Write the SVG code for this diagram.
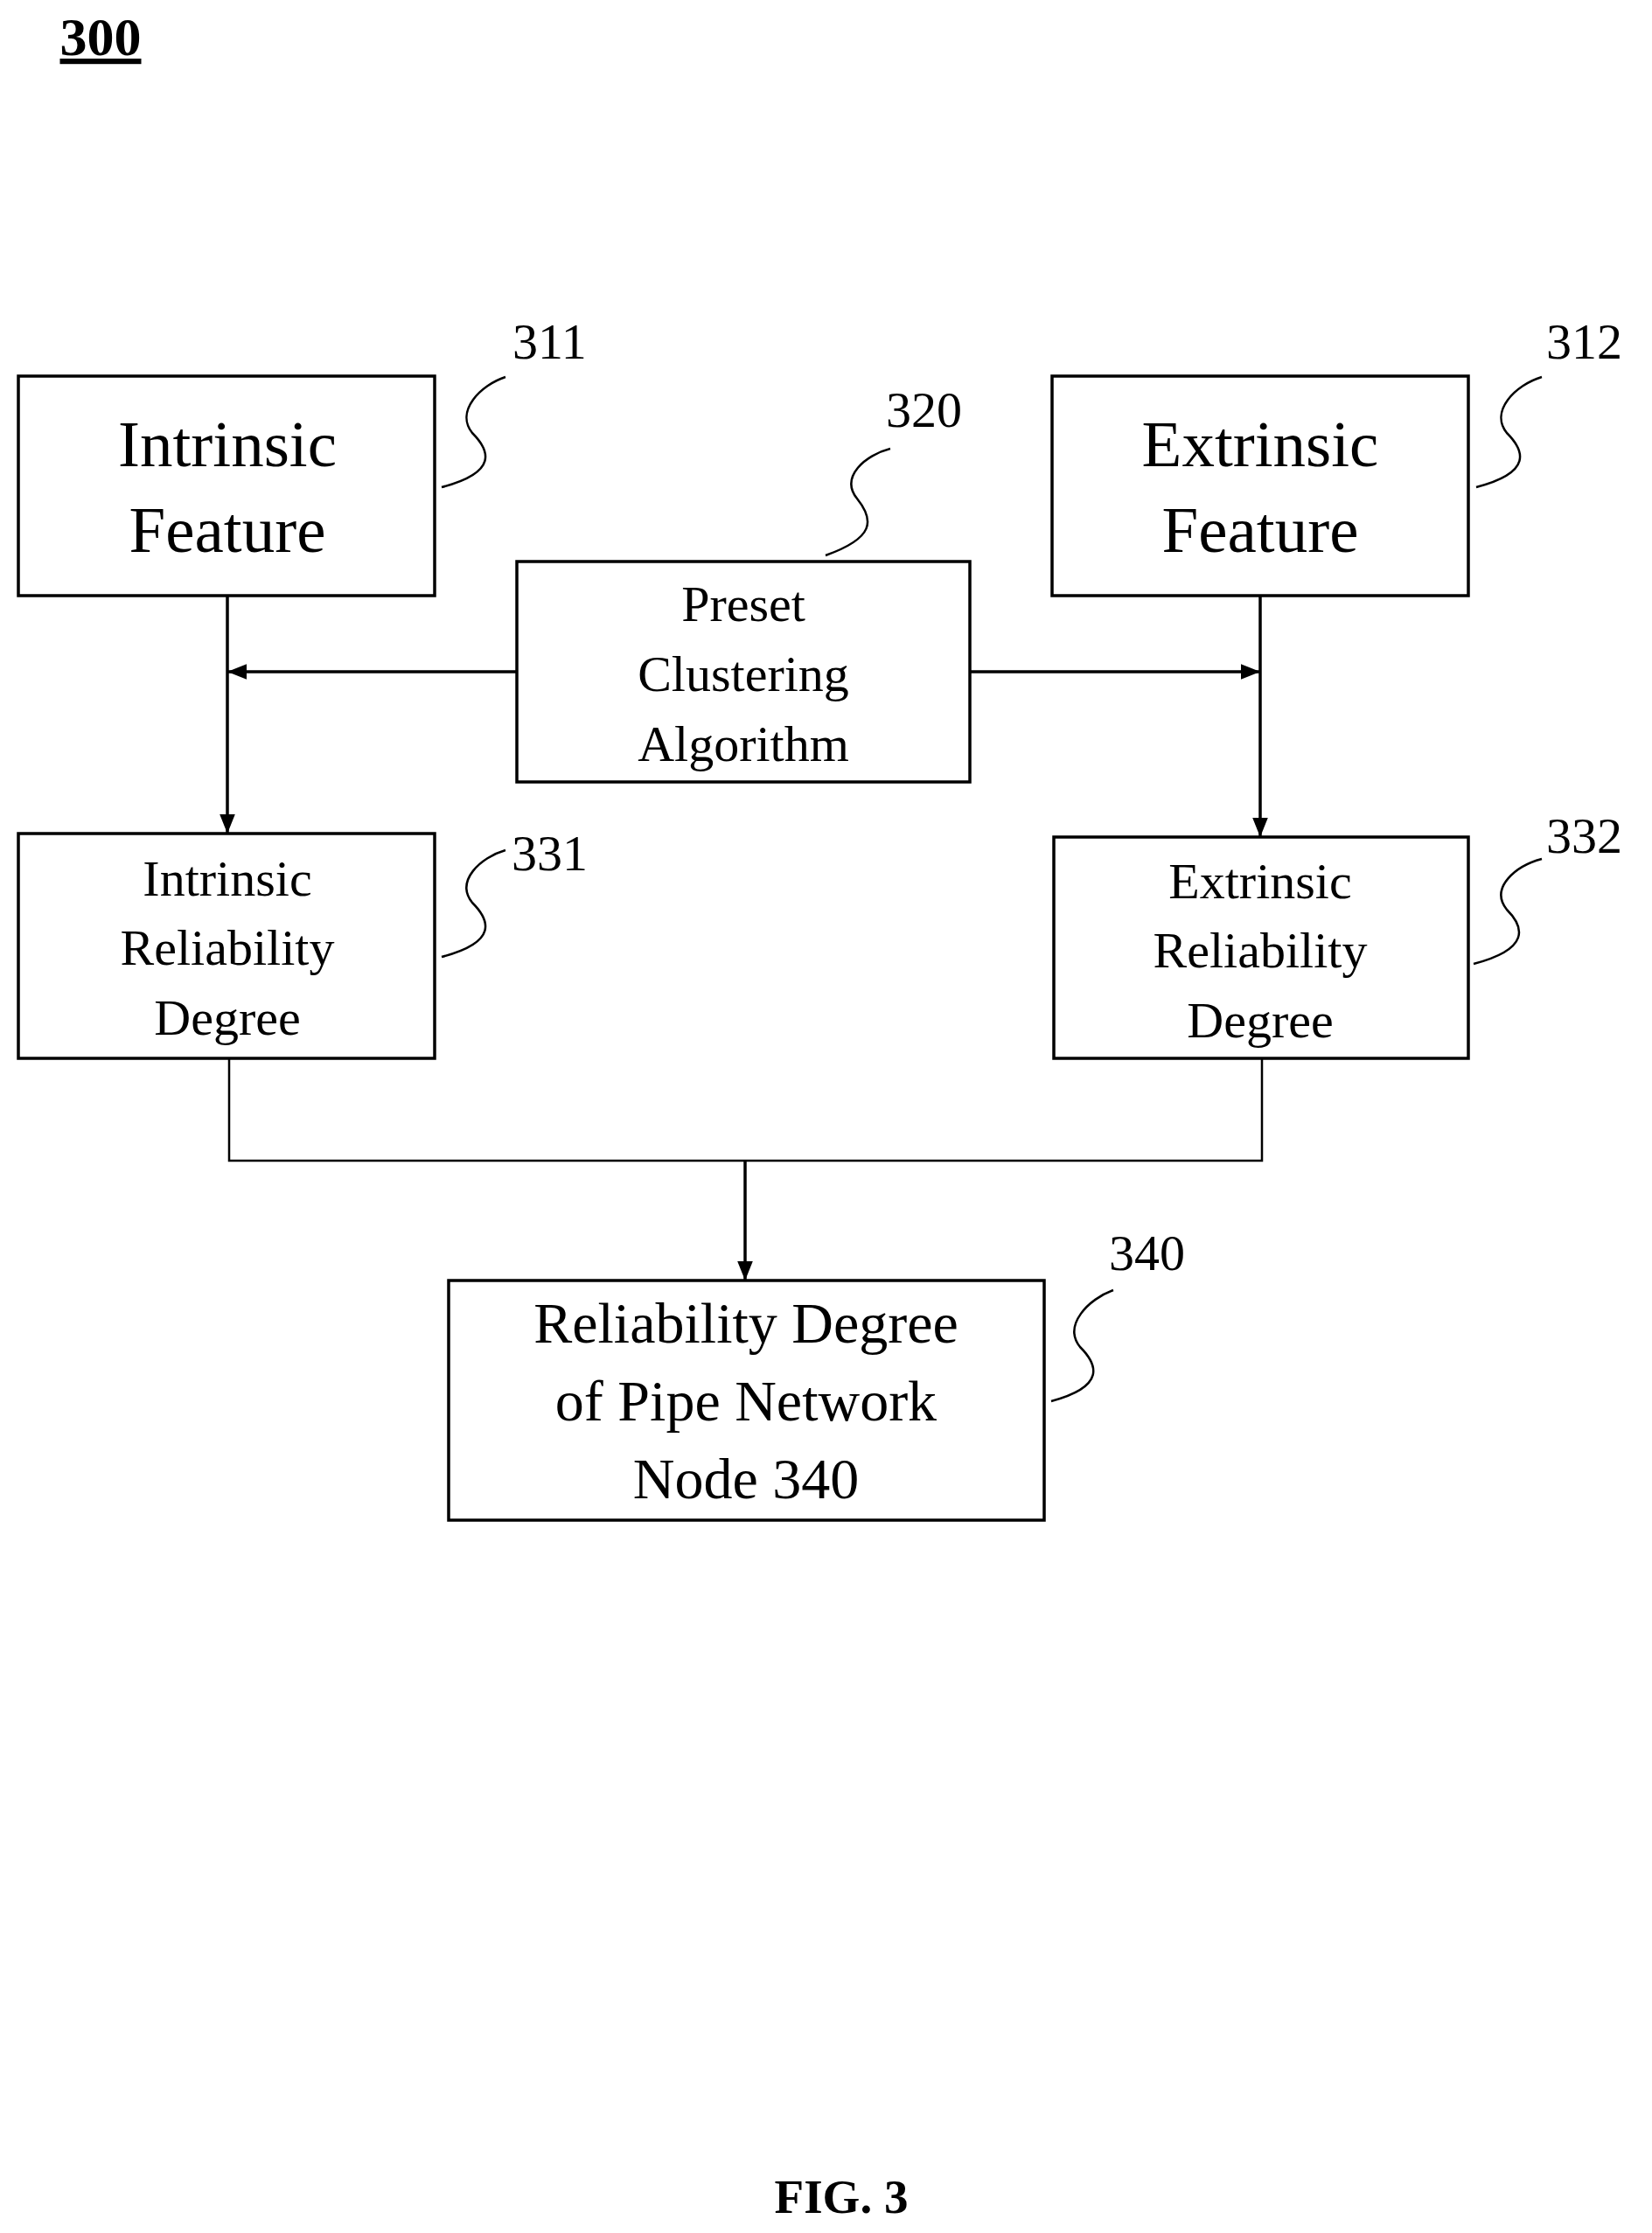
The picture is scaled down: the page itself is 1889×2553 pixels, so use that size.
<svg xmlns="http://www.w3.org/2000/svg" width="1889" height="2553" viewBox="0 0 1889 2553">
<style>
.b{fill:none;stroke:#000;stroke-width:3.5}
.l{fill:none;stroke:#000;stroke-width:2.5}
text{font-family:"Liberation Serif",serif;fill:#000;text-anchor:middle}
.n{font-size:58px;text-anchor:start}
</style>
<defs><marker id="a" viewBox="0 0 10 10" refX="10" refY="5" markerWidth="7" markerHeight="7" orient="auto" markerUnits="userSpaceOnUse"><path d="M0,0L10,5L0,10z" fill="#000"/></marker>
<marker id="m" viewBox="0 0 10 10" refX="10" refY="5" markerWidth="22" markerHeight="22" orient="auto" markerUnits="userSpaceOnUse"><path d="M0,1L10,5L0,9z" fill="#000"/></marker></defs>
<rect width="1889" height="2553" fill="#fff"/>
<text x="115" y="63" style="font-size:62px;font-weight:bold;text-decoration:underline">300</text>
<g id="n311"><rect class="b" x="21" y="430" width="476" height="251"/><text x="260" y="533" font-size="75">Intrinsic</text><text x="260" y="631" font-size="75">Feature</text></g>
<g id="n312"><rect class="b" x="1203" y="430" width="476" height="251"/><text x="1441" y="533" font-size="75">Extrinsic</text><text x="1441" y="631" font-size="75">Feature</text></g>
<g id="n320"><rect class="b" x="591" y="642" width="518" height="252"/><text x="850" y="710" font-size="58">Preset</text><text x="850" y="790" font-size="58">Clustering</text><text x="850" y="870" font-size="58">Algorithm</text></g>
<g id="n331"><rect class="b" x="21" y="953" width="476" height="257"/><text x="260" y="1024" font-size="58">Intrinsic</text><text x="260" y="1103" font-size="58">Reliability</text><text x="260" y="1183" font-size="58">Degree</text></g>
<g id="n332"><rect class="b" x="1205" y="957" width="474" height="253"/><text x="1441" y="1027" font-size="58">Extrinsic</text><text x="1441" y="1106" font-size="58">Reliability</text><text x="1441" y="1186" font-size="58">Degree</text></g>
<g id="n340"><rect class="b" x="513" y="1464" width="681" height="274"/><text x="853" y="1535" font-size="66">Reliability Degree</text><text x="853" y="1624" font-size="66">of Pipe Network</text><text x="853" y="1713" font-size="66">Node 340</text></g>
<g id="labels">
<text class="n" x="586" y="410">311</text><path class="l" d="M505,557 C570,540 560,515 540,495 C520,470 550,440 578,431"/>
<text class="n" x="1013" y="488">320</text><path class="l" d="M944,635 C1000,615 1000,595 980,570 C960,545 990,520 1018,513"/>
<text class="n" x="1768" y="410">312</text><path class="l" d="M1688,557 C1753,540 1743,515 1723,495 C1703,470 1733,440 1763,431"/>
<text class="n" x="585" y="995">331</text><path class="l" d="M505,1094 C570,1077 560,1052 540,1032 C520,1007 550,980 578,972"/>
<text class="n" x="1768" y="975">332</text><path class="l" d="M1685,1102 C1750,1085 1743,1060 1723,1040 C1703,1015 1733,990 1763,982"/>
<text class="n" x="1268" y="1452">340</text><path class="l" d="M1202,1602 C1265,1585 1255,1560 1235,1540 C1215,1515 1245,1485 1273,1475"/>
</g>
<g id="connectors">
<line class="b" x1="260" y1="681" x2="260" y2="953" marker-end="url(#m)"/>
<line class="b" x1="1441" y1="681" x2="1441" y2="957" marker-end="url(#m)"/>
<line class="b" x1="591" y1="768" x2="260" y2="768" marker-end="url(#m)"/>
<line class="b" x1="1109" y1="768" x2="1441" y2="768" marker-end="url(#m)"/>
<path class="l" d="M262,1210 V1327 H1443 V1210"/>
<line class="b" x1="852" y1="1327" x2="852" y2="1464" marker-end="url(#m)"/>
</g>
<text x="962" y="2530" style="font-size:55px;font-weight:bold">FIG. 3</text>
</svg>
